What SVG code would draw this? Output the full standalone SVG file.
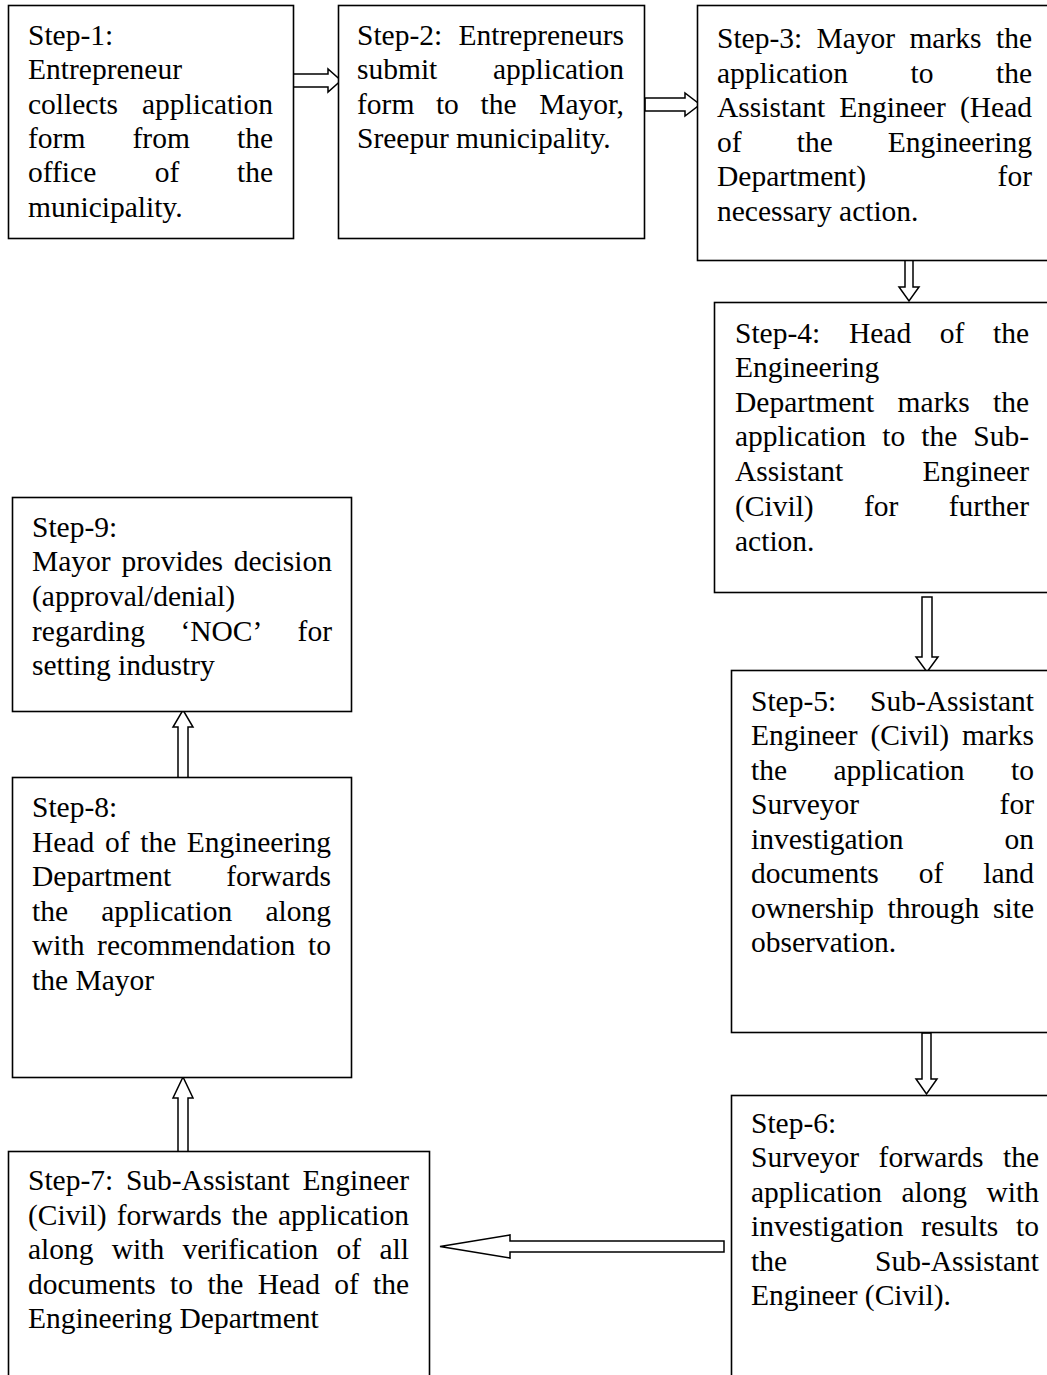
<svg xmlns="http://www.w3.org/2000/svg" width="1047" height="1375" viewBox="0 0 1047 1375">
<style>
.box{fill:#fff;stroke:#000;stroke-width:1.6}
.arr{fill:#fff;stroke:#000;stroke-width:1.5;stroke-linejoin:miter}
text{font-family:"Liberation Serif","Times New Roman",serif;font-size:29.5px;fill:#000}
.r{text-anchor:end}
</style>
<rect width="1047" height="1375" fill="#fff"/>
<g id="connectors">
<polygon class="arr" points="292,74 328,74 328,69 341,80.5 328,92 328,87 292,87"/>
<polygon class="arr" points="645,98 685,98 685,93 700,104.5 685,116 685,111 645,111"/>
<polygon class="arr" points="905,256 913,256 913,287 919,287 909,301 899,287 905,287"/>
<polygon class="arr" points="922,597 932,597 932,657 938,657 927,672 916,657 922,657"/>
<polygon class="arr" points="922,1033 931,1033 931,1079 937,1079 926.5,1094 916,1079 922,1079"/>
<polygon class="arr" points="724,1241 510,1241 510,1235 440,1246.5 510,1258 510,1252 724,1252"/>
<polygon class="arr" points="178,1152 188,1152 188,1098 193,1098 183,1077 173,1098 178,1098"/>
<polygon class="arr" points="178,778 188,778 188,727 193,727 183,710 173,727 178,727"/>
</g>
<g id="step1">
<rect class="box" x="8.5" y="5.5" width="285" height="233"/>
<text x="28" y="45">Step-1:</text>
<text x="28" y="79">Entrepreneur</text>
<text x="28" y="114">collects</text><text class="r" x="273" y="114">application</text>
<text x="28" y="148">form</text><text x="132.5" y="148">from</text><text class="r" x="273" y="148">the</text>
<text x="28" y="182">office</text><text x="154.7" y="182">of</text><text class="r" x="273" y="182">the</text>
<text x="28" y="217">municipality.</text>
</g>
<g id="step2">
<rect class="box" x="338.5" y="5.5" width="306" height="233"/>
<text x="357" y="45">Step-2:</text><text class="r" x="624" y="45">Entrepreneurs</text>
<text x="357" y="79">submit</text><text class="r" x="624" y="79">application</text>
<text x="357" y="114">form</text><text x="435.9" y="114">to</text><text x="480.5" y="114">the</text><text class="r" x="624" y="114">Mayor,</text>
<text x="357" y="148">Sreepur municipality.</text>
</g>
<g id="step3">
<rect class="box" x="697.5" y="5.5" width="370" height="255"/>
<text x="717" y="48">Step-3:</text><text x="816.5" y="48">Mayor</text><text x="909.4" y="48">marks</text><text class="r" x="1032" y="48">the</text>
<text x="717" y="83">application</text><text x="910.5" y="83">to</text><text class="r" x="1032" y="83">the</text>
<text x="717" y="117">Assistant</text><text x="839.3" y="117">Engineer</text><text class="r" x="1032" y="117">(Head</text>
<text x="717" y="152">of</text><text x="796.7" y="152">the</text><text class="r" x="1032" y="152">Engineering</text>
<text x="717" y="186">Department)</text><text class="r" x="1032" y="186">for</text>
<text x="717" y="221">necessary action.</text>
</g>
<g id="step4">
<rect class="box" x="714.5" y="302.5" width="360" height="290"/>
<text x="735" y="343">Step-4:</text><text x="848.9" y="343">Head</text><text x="939.8" y="343">of</text><text class="r" x="1029" y="343">the</text>
<text x="735" y="377">Engineering</text>
<text x="735" y="412">Department</text><text x="897.6" y="412">marks</text><text class="r" x="1029" y="412">the</text>
<text x="735" y="446">application</text><text x="882.2" y="446">to</text><text x="921.3" y="446">the</text><text class="r" x="1029" y="446">Sub-</text>
<text x="735" y="481">Assistant</text><text class="r" x="1029" y="481">Engineer</text>
<text x="735" y="516">(Civil)</text><text x="864" y="516">for</text><text class="r" x="1029" y="516">further</text>
<text x="735" y="551">action.</text>
</g>
<g id="step5">
<rect class="box" x="731.5" y="670.5" width="340" height="362"/>
<text x="751" y="711">Step-5:</text><text class="r" x="1034" y="711">Sub-Assistant</text>
<text x="751" y="745">Engineer</text><text x="870.4" y="745">(Civil)</text><text class="r" x="1034" y="745">marks</text>
<text x="751" y="780">the</text><text x="833.5" y="780">application</text><text class="r" x="1034" y="780">to</text>
<text x="751" y="814">Surveyor</text><text class="r" x="1034" y="814">for</text>
<text x="751" y="849">investigation</text><text class="r" x="1034" y="849">on</text>
<text x="751" y="883">documents</text><text x="918.7" y="883">of</text><text class="r" x="1034" y="883">land</text>
<text x="751" y="918">ownership</text><text x="887.6" y="918">through</text><text class="r" x="1034" y="918">site</text>
<text x="751" y="952">observation.</text>
</g>
<g id="step6">
<rect class="box" x="731.5" y="1095.5" width="340" height="300"/>
<text x="751" y="1133">Step-6:</text>
<text x="751" y="1167">Surveyor</text><text x="878.6" y="1167">forwards</text><text class="r" x="1039" y="1167">the</text>
<text x="751" y="1202">application</text><text x="901.5" y="1202">along</text><text class="r" x="1039" y="1202">with</text>
<text x="751" y="1236">investigation</text><text x="921.2" y="1236">results</text><text class="r" x="1039" y="1236">to</text>
<text x="751" y="1271">the</text><text class="r" x="1039" y="1271">Sub-Assistant</text>
<text x="751" y="1305">Engineer (Civil).</text>
</g>
<g id="step7">
<rect class="box" x="8.5" y="1151.5" width="421" height="250"/>
<text x="28" y="1190">Step-7:</text><text x="125.9" y="1190">Sub-Assistant</text><text class="r" x="409" y="1190">Engineer</text>
<text x="28" y="1225">(Civil)</text><text x="116.8" y="1225">forwards</text><text x="231.7" y="1225">the</text><text class="r" x="409" y="1225">application</text>
<text x="28" y="1259">along</text><text x="111.7" y="1259">with</text><text x="182.4" y="1259">verification</text><text x="336.6" y="1259">of</text><text class="r" x="409" y="1259">all</text>
<text x="28" y="1294">documents</text><text x="170.1" y="1294">to</text><text x="207.4" y="1294">the</text><text x="257.7" y="1294">Head</text><text x="334.2" y="1294">of</text><text class="r" x="409" y="1294">the</text>
<text x="28" y="1328">Engineering Department</text>
</g>
<g id="step8">
<rect class="box" x="12.5" y="777.5" width="339" height="300"/>
<text x="32" y="817">Step-8:</text>
<text x="32" y="852">Head</text><text x="104.9" y="852">of</text><text x="140.2" y="852">the</text><text class="r" x="331" y="852">Engineering</text>
<text x="32" y="886">Department</text><text class="r" x="331" y="886">forwards</text>
<text x="32" y="921">the</text><text x="101.2" y="921">application</text><text class="r" x="331" y="921">along</text>
<text x="32" y="955">with</text><text x="97.1" y="955">recommendation</text><text class="r" x="331" y="955">to</text>
<text x="32" y="990">the Mayor</text>
</g>
<g id="step9">
<rect class="box" x="12.5" y="497.5" width="339" height="214"/>
<text x="32" y="537">Step-9:</text>
<text x="32" y="571">Mayor</text><text x="121.4" y="571">provides</text><text class="r" x="332" y="571">decision</text>
<text x="32" y="606">(approval/denial)</text>
<text x="32" y="641">regarding</text><text x="180.4" y="641">‘NOC’</text><text class="r" x="332" y="641">for</text>
<text x="32" y="675">setting industry</text>
</g>
</svg>
